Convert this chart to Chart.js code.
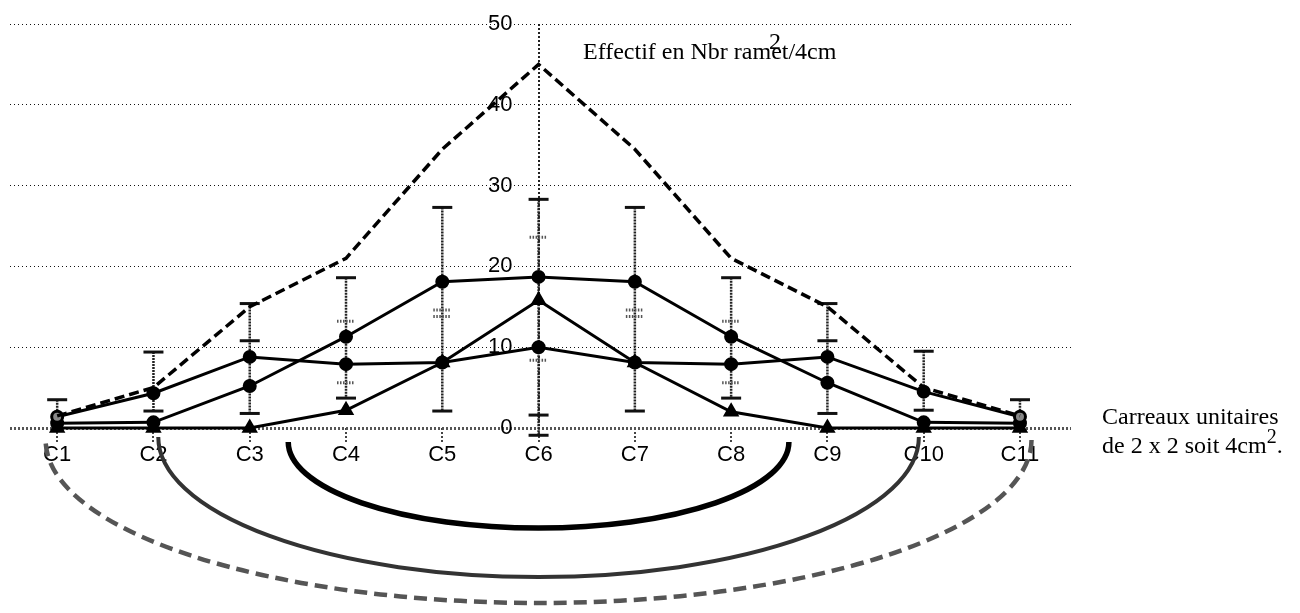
<!DOCTYPE html>
<html>
<head>
<meta charset="utf-8">
<script src="https://cdn.jsdelivr.net/npm/chart.js@4"></script>
<style>
  body { margin: 0; background: #fff; }
  #wrap { position: relative; width: 1300px; height: 613px; }
  .txt { position: absolute; font-family: 'Liberation Serif', 'Times New Roman', serif; font-size: 24px; line-height: 24px; color: #000; white-space: nowrap; }
</style>
</head>
<body>
<div id="wrap">
  <canvas id="chart" width="1300" height="613"></canvas>
  <div class="txt" style="left:583px; top:39px;">Effectif en Nbr ramet/4cm</div>
  <div class="txt" style="left:769px; top:29px;">2</div>
  <div class="txt" style="left:1102px; top:404px;">Carreaux unitaires</div>
  <div class="txt" style="left:1102px; top:433px;">de 2 x 2 soit 4cm<span style="font-size:20px; position:relative; top:-10px;">2</span>.</div>
</div>
<script>
// categories and values
const categories = ['C1', 'C2', 'C3', 'C4', 'C5', 'C6', 'C7', 'C8', 'C9', 'C10', 'C11'];
const yTicks = [0, 10, 20, 30, 40, 50];

const upperDashed = [1.5, 5, 15, 21, 34.5, 45, 34.5, 21, 15, 5, 1.5];
const seriesFlat = [1.4, 4.3, 8.8, 7.9, 8.1, 10.0, 8.1, 7.9, 8.8, 4.5, 1.4];
const seriesMid = [0.6, 0.7, 5.2, 11.3, 18.1, 18.7, 18.1, 11.3, 5.6, 0.7, 0.6];
const seriesLow = [0, 0, 0, 2.2, 8.1, 15.8, 8.1, 2.0, 0, 0, 0];

// error bar caps
const capTop = [3.5, 9.4, 15.4, 18.6, 27.3, 28.3, 27.3, 18.6, 15.4, 9.5, 3.5];
const capBottom = [null, 2.1, 1.8, 3.7, 2.1, 1.6, 2.1, 3.7, 1.8, 2.2, null];
const capExtra = [null, null, 10.8, null, null, -0.9, null, null, 10.8, null, null];
const dotTop = [null, null, null, 13.2, 14.6, 23.6, 14.6, 13.2, null, null, null];
const dotBottom = [null, null, null, 5.6, 13.8, 8.4, 13.8, 5.6, null, null, null];

const toPoints = arr => arr.map((v, i) => ({ x: i, y: v }));

// error bars drawn under the lines
const errorBars = {
  id: 'errorBars',
  beforeDatasetsDraw(chart) {
    const { ctx, scales: { x, y } } = chart;
    ctx.save();
    categories.forEach((c, i) => {
      const vals = [capTop[i], capBottom[i], capExtra[i], dotTop[i], dotBottom[i], seriesFlat[i]]
        .filter(v => v !== null);
      const px = x.getPixelForValue(i);
      const top = y.getPixelForValue(Math.max(...vals));
      const bot = y.getPixelForValue(Math.min(...vals));
      ctx.strokeStyle = '#222';
      ctx.lineWidth = 2.5;
      ctx.setLineDash([2, 1]);
      ctx.beginPath();
      ctx.moveTo(px, top);
      ctx.lineTo(px, bot);
      ctx.stroke();

      ctx.setLineDash([]);
      ctx.lineWidth = 3;
      ctx.strokeStyle = '#111';
      [capTop[i], capBottom[i], capExtra[i]].forEach(v => {
        if (v === null) return;
        const py = y.getPixelForValue(v);
        ctx.beginPath();
        ctx.moveTo(px - 10, py);
        ctx.lineTo(px + 10, py);
        ctx.stroke();
      });
      ctx.setLineDash([1.5, 1.5]);
      ctx.strokeStyle = '#555';
      [dotTop[i], dotBottom[i]].forEach(v => {
        if (v === null) return;
        const py = y.getPixelForValue(v);
        ctx.beginPath();
        ctx.moveTo(px - 9, py);
        ctx.lineTo(px + 9, py);
        ctx.stroke();
      });
    });
    ctx.restore();
  }
};

// the three half circles below the axis
const arcs = {
  id: 'arcs',
  afterDraw(chart) {
    const { ctx, scales: { x, y } } = chart;
    const cx = x.getPixelForValue(5);
    const y0 = y.getPixelForValue(0);
    const unit = x.getPixelForValue(1) - x.getPixelForValue(0);
    const list = [
      { half: 2.6, top: 14, depth: 86, width: 5.5, color: '#000', dash: [] },
      { half: 3.95, top: 9, depth: 140, width: 4, color: '#333', dash: [] },
      { half: 5.12, top: 12, depth: 163, width: 4.5, color: '#555', dash: [13, 7] }
    ];
    ctx.save();
    list.forEach(a => {
      ctx.beginPath();
      ctx.lineWidth = a.width;
      ctx.strokeStyle = a.color;
      ctx.setLineDash(a.dash);
      ctx.ellipse(cx, y0 + a.top, a.half * unit, a.depth, 0, 0, Math.PI);
      ctx.stroke();
    });
    ctx.restore();
  }
};

const lineStyle = {
  borderColor: '#000',
  backgroundColor: '#000',
  pointBackgroundColor: '#000',
  pointBorderColor: '#000',
  borderWidth: 3,
  tension: 0,
  clip: false
};

new Chart(document.getElementById('chart'), {
  type: 'line',
  data: {
    datasets: [
      Object.assign({}, lineStyle, { label: 'max', data: toPoints(upperDashed), borderDash: [10, 5], borderWidth: 3.5, pointRadius: 0 }),
      Object.assign({}, lineStyle, { label: 'a', data: toPoints(seriesFlat), pointRadius: 5.5,
        pointBackgroundColor: ctx => (ctx.dataIndex === 0 || ctx.dataIndex === 10) ? '#888' : '#000' }),
      Object.assign({}, lineStyle, { label: 'b', data: toPoints(seriesMid), pointRadius: 5.5 }),
      Object.assign({}, lineStyle, { label: 'c', data: toPoints(seriesLow), pointStyle: 'triangle', pointRadius: 6.5 })
    ]
  },
  options: {
    responsive: false,
    animation: false,
    layout: { padding: { left: 10, right: 229, top: 24, bottom: 0 } },
    plugins: { legend: { display: false }, tooltip: { enabled: false } },
    scales: {
      x: {
        type: 'linear',
        min: -0.49,
        max: 10.53,
        afterBuildTicks: s => { s.ticks = categories.map((c, i) => ({ value: i })); },
        afterFit: s => { s.height = 185; },
        ticks: {
          callback: v => categories[v],
          font: { family: 'Liberation Sans', size: 22 },
          color: '#000',
          padding: -2,
          maxRotation: 0,
          autoSkip: false
        },
        grid: {
          color: ctx => ctx.tick && ctx.tick.value === 5 ? '#222' : 'rgba(0,0,0,0)',
          lineWidth: 2,
          tickColor: '#444',
          tickLength: 16,
          tickWidth: 2,
          tickBorderDash: [2, 2]
        },
        border: { display: false, dash: [2, 2] }
      },
      y: {
        type: 'linear',
        min: 0,
        max: 50,
        // labels sit a little left of the dotted axis at C6
        position: { x: 4.73 },
        afterBuildTicks: s => { s.ticks = yTicks.map(v => ({ value: v })); },
        ticks: {
          font: { family: 'Liberation Sans', size: 22 },
          color: '#000',
          padding: 0
        },
        grid: {
          drawTicks: false,
          color: ctx => ctx.tick && ctx.tick.value === 0 ? '#555' : '#111',
          lineWidth: ctx => ctx.tick && ctx.tick.value === 0 ? 3 : 1
        },
        border: { display: false, dash: ctx => ctx.tick && ctx.tick.value === 0 ? [2, 2] : [1, 3] }
      }
    }
  },
  plugins: [errorBars, arcs]
});
</script>
</body>
</html>
